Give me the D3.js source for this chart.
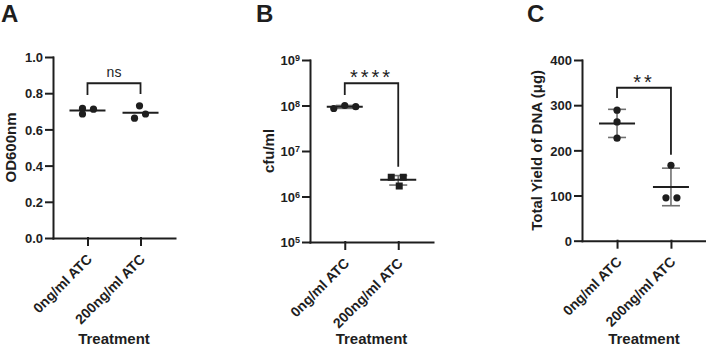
<!DOCTYPE html>
<html>
<head>
<meta charset="utf-8">
<script src="https://cdn.jsdelivr.net/npm/d3@7/dist/d3.min.js"></script>
<style>
  html, body { margin: 0; padding: 0; background: #fff; }
  svg { display: block; font-family: "Liberation Sans", Arial, sans-serif; }
</style>
</head>
<body>
<div id="chart"></div>
<script>
// categories on every panel
var categories = ['0ng/ml ATC', '200ng/ml ATC'];

// panel A: OD600nm
var odCtrl = [0.716, 0.685, 0.712];
var odAtc  = [0.730, 0.662, 0.685];
var odTicks = [0, 0.2, 0.4, 0.6, 0.8, 1.0];

// panel B: cfu/ml
var cfuCtrl = [8.6e7, 1.0e8, 9.4e7];
var cfuAtc  = [2.65e6, 2.65e6, 1.70e6];
var cfuTicks = [1e5, 1e6, 1e7, 1e8, 1e9];

// panel C: total yield of DNA
var dnaCtrl = [289, 263, 227];
var dnaAtc  = [167, 95, 95];
var dnaTicks = [0, 100, 200, 300, 400];

var sigLabels = ['ns', '****', '**'];

var W = 706, H = 348
  , ink = '#1e1e1e'
  , errInk = '#707070';

var svg = d3.select('#chart').append('svg')
    .attr('width', W)
    .attr('height', H)
    .attr('viewBox', '0 0 ' + W + ' ' + H);

function mean(a){ return d3.mean(a); }
function sd(a){ return d3.deviation(a); }

function panel(o){
    var g = svg.append('g').classed('panel', true)
      , x = d3.scalePoint().domain(categories).range(o.xRange).padding(0.65)
      , y = o.y
      , y0 = y.range()[0]
      , groups = [o.ctrl, o.atc];

    // y axis
    var ya = g.append('g').classed('yaxis', true)
        .attr('transform', 'translate(' + [o.xRange[0], 0] + ')')
        .call(d3.axisLeft(y).tickValues(o.ticks).tickSize(7).tickSizeOuter(0)
              .tickPadding(3).tickFormat(o.fmt || null));

    // x axis
    var xa = g.append('g').classed('xaxis', true)
        .attr('transform', 'translate(' + [0, y0] + ')')
        .call(d3.axisBottom(x).tickSize(7).tickSizeOuter(0));

    g.selectAll('.domain, .tick line')
        .attr('stroke', ink).attr('stroke-width', 2).attr('stroke-linecap', 'square');

    ya.selectAll('text')
        .attr('fill', ink).style('font-size', '13px').style('font-weight', 'bold')
        .attr('dy', '0.36em');

    if(o.log){
        ya.selectAll('text').each(function(d){
            var t = d3.select(this).text('');
            t.append('tspan').text('10');
            t.append('tspan').attr('dy', '-0.45em').style('font-size', '9px')
                .text(Math.round(Math.log10(d)));
        });
    }

    xa.selectAll('text')
        .attr('x', 0).attr('y', 0).attr('dy', 0)
        .attr('transform', 'translate(5,22) rotate(-45)')
        .style('text-anchor', 'end')
        .attr('fill', ink).style('font-size', '14px').style('font-weight', 'bold');

    // error bars (mean ± SD)
    if(o.errors){
        groups.forEach(function(vals, i){
            var cx = x(categories[i])
              , m = mean(vals), s = sd(vals)
              , hi = y(m + s), lo = y(m - s)
              , eb = g.append('g').attr('stroke', errInk).attr('stroke-width', 1.6);
            eb.append('line').attr('x1', cx).attr('x2', cx).attr('y1', hi).attr('y2', lo);
            eb.append('line').attr('x1', cx - 9).attr('x2', cx + 9).attr('y1', hi).attr('y2', hi);
            eb.append('line').attr('x1', cx - 9).attr('x2', cx + 9).attr('y1', lo).attr('y2', lo);
        });
    }

    // mean lines
    groups.forEach(function(vals, i){
        var cx = x(categories[i]), my = y(mean(vals));
        g.append('line')
            .attr('x1', cx - 18).attr('x2', cx + 18)
            .attr('y1', my).attr('y2', my)
            .attr('stroke', ink).attr('stroke-width', 2);
    });

    // points
    groups.forEach(function(vals, i){
        var cx = x(categories[i]), jit = o.jitter[i];
        vals.forEach(function(v, k){
            var px = cx + jit[k], py = y(v);
            if(o.squares && i === 1)
                g.append('rect').attr('x', px - 3.5).attr('y', py - 3.5)
                    .attr('width', 7).attr('height', 7).attr('fill', ink);
            else
                g.append('circle').attr('cx', px).attr('cy', py).attr('r', 3.6).attr('fill', ink);
        });
    });

    // significance bracket
    var bx1 = x(categories[0]), bx2 = x(categories[1])
      , bt = y(o.bracket[0]);
    g.append('path')
        .attr('d', 'M' + bx1 + ',' + y(o.bracket[1]) + 'V' + bt + 'H' + bx2 + 'V' + y(o.bracket[2]))
        .attr('fill', 'none').attr('stroke', ink).attr('stroke-width', 1.8);

    g.append('text')
        .attr('x', (bx1 + bx2) / 2).attr('y', bt + o.sigDy)
        .attr('text-anchor', 'middle')
        .style('font-size', o.sigSize + 'px')
        .style('letter-spacing', o.sigSpacing + 'px')
        .attr('fill', ink)
        .text(o.sig);

    // axis titles
    g.append('text')
        .attr('transform', 'translate(' + [o.titleX, (y.range()[0] + y.range()[1]) / 2] + ') rotate(-90)')
        .attr('text-anchor', 'middle')
        .style('font-size', '15px').style('font-weight', 'bold').attr('fill', ink)
        .text(o.title);

    g.append('text')
        .attr('x', (o.xRange[0] + o.xRange[1]) / 2).attr('y', 344)
        .attr('text-anchor', 'middle')
        .style('font-size', '15px').style('font-weight', 'bold').attr('fill', ink)
        .text('Treatment');

    // panel letter
    g.append('text')
        .attr('x', o.letterX).attr('y', 22)
        .style('font-size', '24px').style('font-weight', 'bold').attr('fill', ink)
        .text(o.letter);
}

panel({
    letter: 'A', letterX: 1
  , xRange: [53, 175]
  , y: d3.scaleLinear().domain([0, 1]).range([238, 57])
  , ticks: odTicks, fmt: d3.format('.1f')
  , ctrl: odCtrl, atc: odAtc
  , jitter: [[-5, -5, 6], [-1, -6, 5]]
  , errors: false
  , bracket: [0.855, 0.79, 0.795]
  , sig: sigLabels[0], sigSize: 14, sigSpacing: 0, sigDy: -6
  , title: 'OD600nm', titleX: 16
});

panel({
    letter: 'B', letterX: 256
  , xRange: [310, 433]
  , y: d3.scaleLog().domain([1e5, 1e9]).range([242, 60])
  , ticks: cfuTicks, log: true
  , ctrl: cfuCtrl, atc: cfuAtc
  , jitter: [[-11, 0, 11], [-7, 5, 1]]
  , squares: true
  , errors: true
  , bracket: [3.08e8, 1.7e8, 4.5e6]
  , sig: sigLabels[1], sigSize: 20, sigSpacing: 3, sigDy: 1
  , title: 'cfu/ml', titleX: 274
});

panel({
    letter: 'C', letterX: 527
  , xRange: [582, 706]
  , y: d3.scaleLinear().domain([0, 400]).range([240.7, 60])
  , ticks: dnaTicks
  , ctrl: dnaCtrl, atc: dnaAtc
  , jitter: [[0, 0, 0], [0, -5, 6]]
  , errors: true
  , bracket: [338.6, 316, 190]
  , sig: sigLabels[2], sigSize: 20, sigSpacing: 3, sigDy: 1
  , title: 'Total Yield of DNA (\u03bcg)', titleX: 542
});
</script>
</body>
</html>
